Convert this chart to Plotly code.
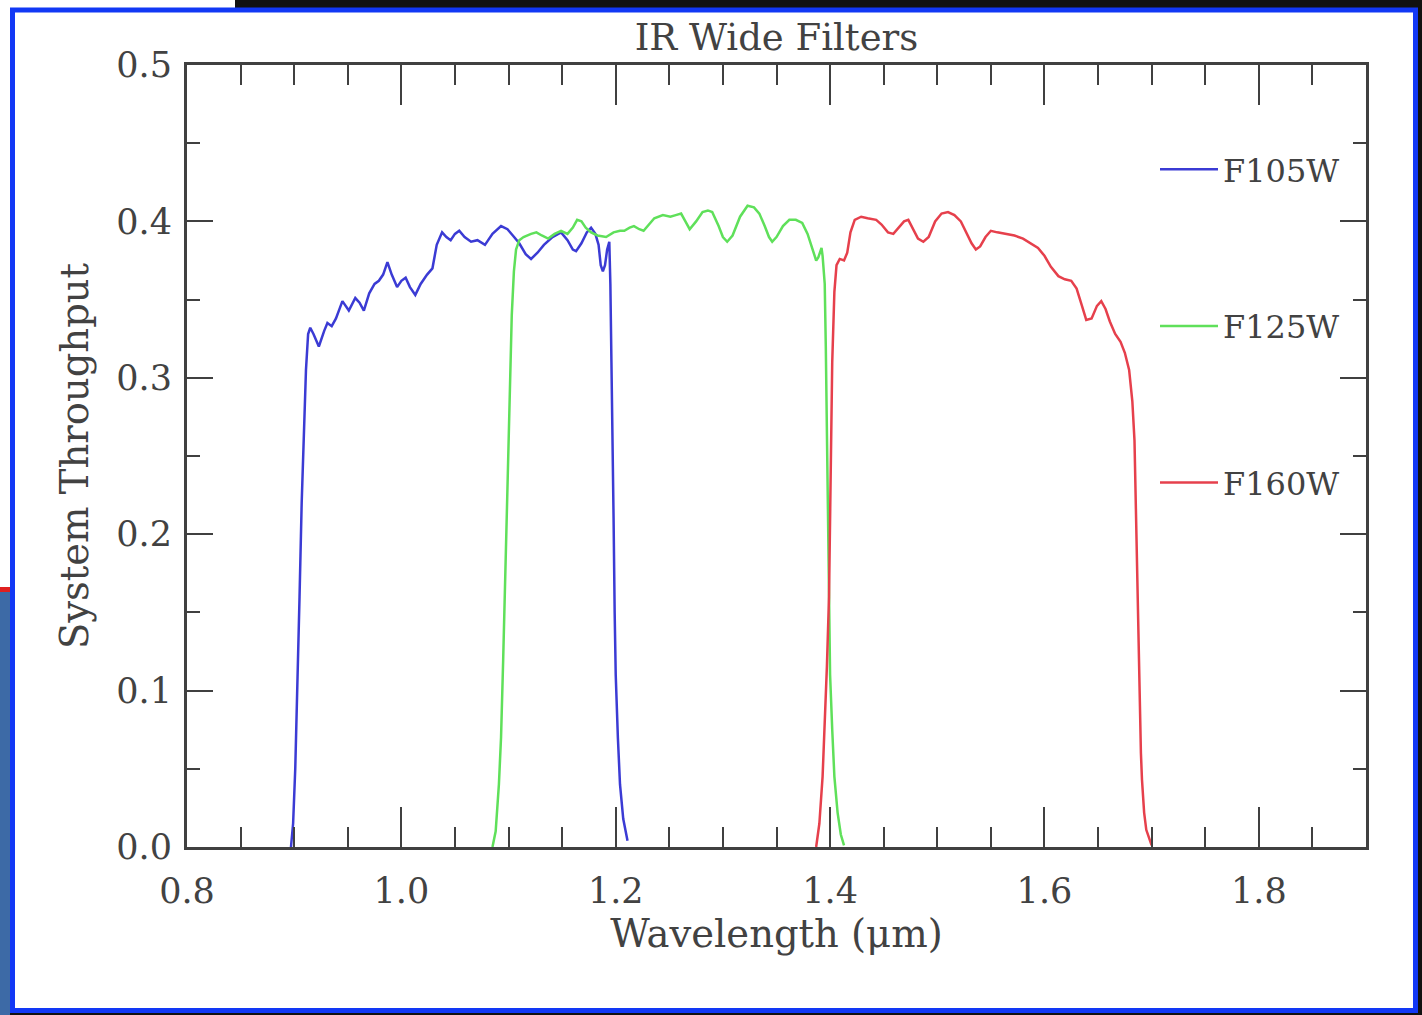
import plotly.graph_objects as go

# ---- data ----
f105w_wave = [0.897, 0.899, 0.901, 0.903, 0.905, 0.907, 0.909, 0.911, 0.913, 0.915, 0.918, 0.923, 0.928, 0.931,
              0.935, 0.939, 0.945, 0.951, 0.957, 0.961, 0.965, 0.970, 0.975, 0.979, 0.983, 0.987, 0.991, 0.996,
              1.000, 1.004, 1.008, 1.013, 1.018, 1.024, 1.029, 1.033, 1.038, 1.042, 1.046, 1.050, 1.054, 1.059,
              1.065, 1.071, 1.078, 1.085, 1.093, 1.099, 1.104, 1.110, 1.116, 1.121, 1.127, 1.133, 1.141, 1.149,
              1.155, 1.160, 1.163, 1.168, 1.173, 1.177, 1.181, 1.184, 1.186, 1.188, 1.190, 1.192, 1.194, 1.195,
              1.196, 1.197, 1.198, 1.199, 1.200, 1.202, 1.204, 1.207, 1.211]
f105w_thru = [0.000, 0.015, 0.050, 0.100, 0.160, 0.220, 0.270, 0.305, 0.328, 0.332, 0.328, 0.320, 0.330, 0.335,
              0.333, 0.338, 0.349, 0.343, 0.351, 0.348, 0.343, 0.354, 0.360, 0.362, 0.366, 0.374, 0.366, 0.358,
              0.362, 0.364, 0.358, 0.353, 0.360, 0.366, 0.370, 0.385, 0.393, 0.390, 0.388, 0.392, 0.394, 0.390,
              0.387, 0.388, 0.385, 0.392, 0.397, 0.395, 0.391, 0.386, 0.379, 0.376, 0.380, 0.385, 0.390, 0.393,
              0.388, 0.382, 0.381, 0.386, 0.393, 0.396, 0.392, 0.385, 0.372, 0.368, 0.372, 0.382, 0.387, 0.360,
              0.310, 0.270, 0.210, 0.150, 0.110, 0.070, 0.040, 0.018, 0.004]

f125w_wave = [1.085, 1.088, 1.091, 1.093, 1.095, 1.097, 1.099, 1.101, 1.103, 1.105, 1.107, 1.110, 1.114, 1.121,
              1.126, 1.131, 1.137, 1.143, 1.149, 1.155, 1.160, 1.164, 1.168, 1.172, 1.177, 1.183, 1.191, 1.198,
              1.204, 1.208, 1.213, 1.217, 1.222, 1.226, 1.231, 1.236, 1.244, 1.251, 1.256, 1.261, 1.265, 1.269,
              1.275, 1.281, 1.286, 1.290, 1.296, 1.300, 1.304, 1.309, 1.316, 1.323, 1.329, 1.334, 1.339, 1.343,
              1.346, 1.350, 1.356, 1.362, 1.368, 1.374, 1.379, 1.384, 1.387, 1.389, 1.392, 1.393, 1.395, 1.396,
              1.397, 1.398, 1.399, 1.400, 1.402, 1.404, 1.407, 1.410, 1.413]
f125w_thru = [0.000, 0.010, 0.040, 0.070, 0.120, 0.175, 0.240, 0.300, 0.340, 0.368, 0.382, 0.388, 0.390, 0.392,
              0.393, 0.391, 0.389, 0.392, 0.394, 0.392, 0.396, 0.401, 0.400, 0.396, 0.393, 0.391, 0.390, 0.393,
              0.394, 0.394, 0.396, 0.397, 0.395, 0.394, 0.398, 0.402, 0.404, 0.403, 0.404, 0.405, 0.400, 0.395,
              0.400, 0.406, 0.407, 0.406, 0.397, 0.390, 0.387, 0.391, 0.403, 0.410, 0.409, 0.405, 0.397, 0.390,
              0.387, 0.390, 0.397, 0.401, 0.401, 0.399, 0.392, 0.381, 0.375, 0.377, 0.383, 0.378, 0.360, 0.320,
              0.260, 0.200, 0.145, 0.110, 0.075, 0.045, 0.022, 0.008, 0.001]

f160w_wave = [1.387, 1.390, 1.393, 1.395, 1.397, 1.399, 1.400, 1.401, 1.402, 1.404, 1.406, 1.409, 1.413, 1.416,
              1.419, 1.423, 1.429, 1.435, 1.443, 1.448, 1.454, 1.459, 1.464, 1.469, 1.473, 1.477, 1.482, 1.487,
              1.492, 1.498, 1.504, 1.510, 1.516, 1.522, 1.527, 1.532, 1.536, 1.540, 1.545, 1.550, 1.556, 1.564,
              1.572, 1.580, 1.587, 1.594, 1.600, 1.606, 1.613, 1.619, 1.625, 1.630, 1.635, 1.639, 1.644, 1.649,
              1.653, 1.657, 1.661, 1.666, 1.671, 1.675, 1.679, 1.682, 1.684, 1.686, 1.688, 1.690, 1.691, 1.693,
              1.695, 1.700]
f160w_thru = [0.000, 0.015, 0.045, 0.075, 0.115, 0.160, 0.210, 0.260, 0.310, 0.355, 0.372, 0.376, 0.375, 0.380,
              0.393, 0.401, 0.403, 0.402, 0.401, 0.398, 0.393, 0.392, 0.396, 0.400, 0.401, 0.396, 0.389, 0.387,
              0.390, 0.400, 0.405, 0.406, 0.404, 0.400, 0.393, 0.386, 0.382, 0.384, 0.390, 0.394, 0.393, 0.392,
              0.391, 0.389, 0.386, 0.383, 0.378, 0.371, 0.365, 0.363, 0.362, 0.357, 0.346, 0.337, 0.338, 0.346,
              0.349, 0.344, 0.336, 0.328, 0.323, 0.316, 0.305, 0.285, 0.260, 0.195, 0.110, 0.060, 0.043, 0.022,
              0.011, 0.001]

filter_names = ["F105W", "F125W", "F160W"]
filter_colors = ["#3b3bd4", "#5fe05a", "#e6404c"]
title_text = "IR Wide Filters"
x_title = "Wavelength (\u03bcm)"
y_title = "System Throughput"

FONT = "DejaVu Serif"
TXT = "#424242"
AX = "#404040"

fig = go.Figure()
series = [(f105w_wave, f105w_thru), (f125w_wave, f125w_thru), (f160w_wave, f160w_thru)]
for (wx, wy), name, col in zip(series, filter_names, filter_colors):
    fig.add_trace(go.Scatter(x=wx, y=wy, mode="lines", name=name, legendgroup=name,
                             line=dict(color=col, width=2.5)))

axis_common = dict(showgrid=False, zeroline=False, showline=True, linecolor=AX, linewidth=3,
                   mirror="allticks", ticks="inside", tickcolor=AX, tickwidth=2,
                   tickfont=dict(family=FONT, size=35, color=TXT), tickformat=".1f")

fig.update_xaxes(range=[0.8, 1.9], dtick=0.2, tick0=0.8, ticklen=40,
                 minor=dict(ticks="inside", ticklen=20, dtick=0.05, tickcolor=AX, tickwidth=2),
                 title=dict(text=x_title, font=dict(family=FONT, size=38.5, color=TXT), standoff=6),
                 ticklabelstandoff=11, **axis_common)
fig.update_yaxes(range=[0, 0.5], dtick=0.1, tick0=0, ticklen=26,
                 minor=dict(ticks="inside", ticklen=13, dtick=0.05, tickcolor=AX, tickwidth=2),
                 title=dict(text=y_title, font=dict(family=FONT, size=38.5, color=TXT), standoff=16),
                 ticklabelstandoff=5, **axis_common)

W, H = 1422, 1015
L, R, T, B = 187, 1366, 65, 847


def px(xp):
    return (xp - L) / (R - L)


def py(yp):
    return (B - yp) / (B - T)


shapes = [
    # screenshot surroundings
    dict(type="rect", xref="paper", yref="paper", x0=px(235), x1=px(1422), y0=py(8), y1=py(0),
         fillcolor="#111111", line=dict(width=0), layer="below"),
    dict(type="rect", xref="paper", yref="paper", x0=px(1418), x1=px(1422), y0=py(1015), y1=py(0),
         fillcolor="#111111", line=dict(width=0), layer="below"),
    dict(type="rect", xref="paper", yref="paper", x0=px(0), x1=px(1422), y0=py(1015), y1=py(1012),
         fillcolor="#111111", line=dict(width=0), layer="below"),
    dict(type="rect", xref="paper", yref="paper", x0=px(0), x1=px(10), y0=py(1015), y1=py(592),
         fillcolor="#3d6aa6", line=dict(width=0), layer="below"),
    dict(type="rect", xref="paper", yref="paper", x0=px(0), x1=px(10), y0=py(592), y1=py(587),
         fillcolor="#e02020", line=dict(width=0), layer="below"),
    # blue slide border
    dict(type="rect", xref="paper", yref="paper", x0=px(12.5), x1=px(1415.5), y0=py(1010.5), y1=py(10),
         fillcolor="rgba(0,0,0,0)", line=dict(color="#1238f5", width=5), layer="above"),
]

fig.update_layout(
    width=W, height=H,
    margin=dict(l=L, r=W - R, t=T, b=H - B),
    paper_bgcolor="white", plot_bgcolor="white",
    title=dict(text=title_text, x=(L + R) / 2 / W, xanchor="center", y=1 - 37 / H, yanchor="middle",
               font=dict(family=FONT, size=37, color=TXT)),
    showlegend=True,
    legend=dict(x=px(1155), xanchor="left", y=py(142), yanchor="top", bgcolor="rgba(0,0,0,0)",
                font=dict(family=FONT, size=32, color=TXT), tracegroupgap=112, itemwidth=58),
    shapes=shapes,
)

fig.write_html("out.html", config={"displayModeBar": False},
               post_script="document.body.style.margin='0';document.body.style.overflow='hidden';")
